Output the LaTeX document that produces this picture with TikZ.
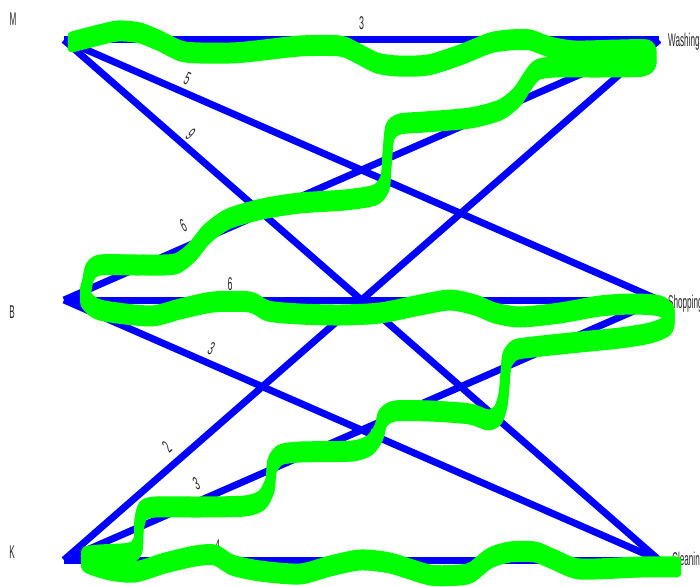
\documentclass[tikz,border=0pt]{standalone}
\usepackage{fontspec}
\setmainfont{Liberation Sans}
\usepackage{graphicx}
\definecolor{edgeblue}{RGB}{0,0,255}
\definecolor{pengreen}{RGB}{0,255,0}
\newcommand{\lblfont}{\fontsize{18.5}{20}\selectfont}
\newcommand{\narrowtxt}[1]{\scalebox{0.48}[1]{#1}}
\newcommand{\namenarrow}[1]{\scalebox{0.44}[1]{#1}}
\begin{document}
\begin{tikzpicture}[x=1pt,y=-1pt,
  edge/.style={draw=edgeblue, line width=7pt},
  wlab/.style={sloped, inner sep=0pt, font=\lblfont, text=black!85},
  vname/.style={inner sep=0pt, font=\lblfont, text=black!85},
  pen/.style={draw=pengreen, line width=9pt, line cap=round, line join=round}]
\useasboundingbox (0,0) rectangle (700,586);
\clip (0,0) rectangle (700,586);
% endpoints
\coordinate (mP) at (64,40);
\coordinate (bP) at (64,300);
\coordinate (kP) at (64,560);
\coordinate (wP) at (659,40);
\coordinate (sP) at (659,300);
\coordinate (cP) at (659,560);
% edges with weights
\draw[edge] (mP) -- (wP) node[wlab, pos=0.5, above=7pt] {\narrowtxt{3}};
\draw[edge] (mP) -- (sP) node[wlab, pos=0.198, above=4.3pt] {\narrowtxt{5}};
\draw[edge] (mP) -- (cP) node[wlab, pos=0.199, above=2.4pt] {\narrowtxt{9}};
\draw[edge] (bP) -- (wP) node[wlab, pos=0.214, above=9.8pt] {\narrowtxt{6}};
\draw[edge] (bP) -- (sP) node[wlab, pos=0.279, above=6pt] {\narrowtxt{6}};
\draw[edge] (bP) -- (cP) node[wlab, pos=0.238, above=4.7pt] {\narrowtxt{3}};
\draw[edge] (kP) -- (wP) node[wlab, pos=0.192, above=7.2pt] {\narrowtxt{2}};
\draw[edge] (kP) -- (sP) node[wlab, pos=0.234, above=7.3pt] {\narrowtxt{3}};
\draw[edge] (kP) -- (cP) node[wlab, pos=0.258, above=4pt] {\narrowtxt{4}};
% vertex names
\node[vname, anchor=base] (mL) at (13,26) {\namenarrow{M}};
\node[vname, anchor=base] (bL) at (12,318) {\namenarrow{B}};
\node[vname, anchor=base] (kL) at (12,558) {\namenarrow{K}};
\node[vname, anchor=base west] (wL) at (668,46) {\namenarrow{Washing}};
\node[vname, anchor=base west] (sL) at (668,308) {\namenarrow{Shopping}};
\node[vname, anchor=base west] (cL) at (672,565) {\namenarrow{Cleaning}};
% green hand-drawn stroke
\foreach \dy in {-6,-3,0,3,6}{
\begin{scope}[yshift=\dy pt]
\draw[pen] plot[smooth, tension=0.45] coordinates {
(72,42) (95,36) (118,31) (140,33) (160,41) (185,52) (230,53) (255,51) (300,46) (340,46) (357,53) (377,63) (398,66) (428,65) (460,55) (490,43) (510,40) (530,40) (550,47) (575,51) (620,50) (647,50) (652,58) (643,66) (600,67) (555,67) (537,70) (527,82) (517,97) (500,110) (470,118) (425,122) (400,124) (390,132) (387,160) (385,183) (375,195) (345,200) (300,203) (262,209) (228,219) (207,234) (192,252) (175,264) (140,265) (100,265) (90,272) (87,285) (85,298)
(100,310) (150,316) (180,309) (213,302) (250,302) (268,311) (300,314) (340,315) (380,313) (420,305) (450,300) (475,305) (495,313) (520,317) (560,313) (600,306) (633,304) (660,306) (670,315) (667,326) (650,333) (620,338) (580,342) (533,347) (515,350) (507,360) (505,380) (503,400) (498,415) (488,420) (470,414) (430,411) (395,411) (383,418) (379,432) (370,445) (352,451) (300,452) (280,455) (272,466) (270,485) (262,500) (245,506) (200,507) (155,507) (143,511) (139,525) (138,545) (130,553) (100,555) (86,557) (88,563) (110,570) (135,572) (165,563) (195,556) (215,555) (232,565) (260,571) (300,574) (330,566) (360,560) (390,563) (430,575) (460,575) (472,572) (490,558) (510,552) (535,552) (555,560) (580,569) (640,567) (677,567)};
\end{scope}}
\end{tikzpicture}
\end{document}
